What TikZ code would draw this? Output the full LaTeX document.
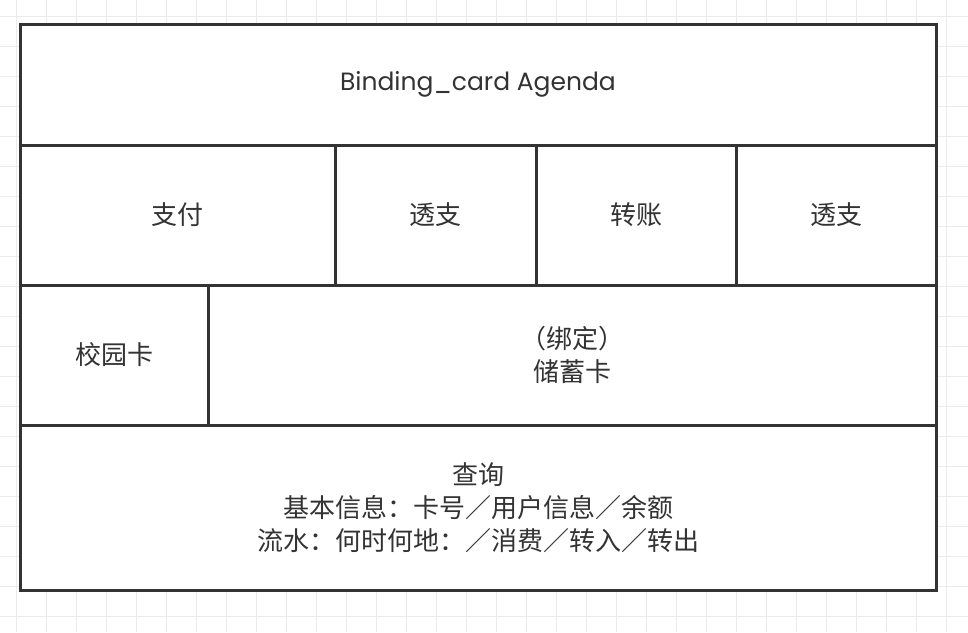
\documentclass[tikz,border=0pt]{standalone}
\usepackage{fontspec}
\newfontfamily\cjk{Noto Sans CJK SC}
\newfontfamily\titlefont{Poppins}
\usetikzlibrary{positioning}
\definecolor{ink}{HTML}{333333}
\definecolor{gridgray}{HTML}{EBEBEB}

\begin{document}
\begin{tikzpicture}[
  x=1pt, y=-1pt,
  font=\cjk\fontsize{26}{33}\selectfont,
  cell/.style={draw=ink, line width=3pt, fill=white, text=ink, align=center,
               inner sep=0pt, outer sep=0pt, anchor=north west},
  gridline/.style={draw=gridgray, line width=1.5pt},
]
\useasboundingbox (0,0) rectangle (968,632);

% ---- background grid ---------------------------------------------------
\foreach \k in {0,...,31} {
  \draw[gridline] (16.5+30*\k,0) -- (16.5+30*\k,632);
}
\foreach \k in {0,...,20} {
  \draw[gridline] (0,16.5+30*\k) -- (968,16.5+30*\k);
}

% ---- title row -----------------------------------------------------------
\node[cell, minimum width=916pt, minimum height=121pt, font=\titlefont\fontsize{25}{30}\selectfont]
  (title) at (20,24) {Binding\_card Agenda};

% ---- functions row -------------------------------------------------------
\node[cell, minimum width=315pt, minimum height=140pt] (pay)   at (title.south west) {支付};
\node[cell, minimum width=201pt, minimum height=140pt] (over1) at (pay.north east)   {透支};
\node[cell, minimum width=200pt, minimum height=140pt] (trans) at (over1.north east) {转账};
\node[cell, minimum width=200pt, minimum height=140pt] (over2) at (trans.north east) {透支};

% ---- cards row -----------------------------------------------------------
\node[cell, minimum width=188pt, minimum height=140pt] (campus) at (pay.south west)  {校园卡};
\node[cell, minimum width=728pt, minimum height=140pt] (debit)  at (campus.north east) {（绑定）\\储蓄卡};

% ---- query row -----------------------------------------------------------
\node[cell, minimum width=916pt, minimum height=165pt] (query) at (campus.south west)
  {查询\\基本信息：卡号／用户信息／余额\\流水：何时何地：／消费／转入／转出};

\end{tikzpicture}
\end{document}
